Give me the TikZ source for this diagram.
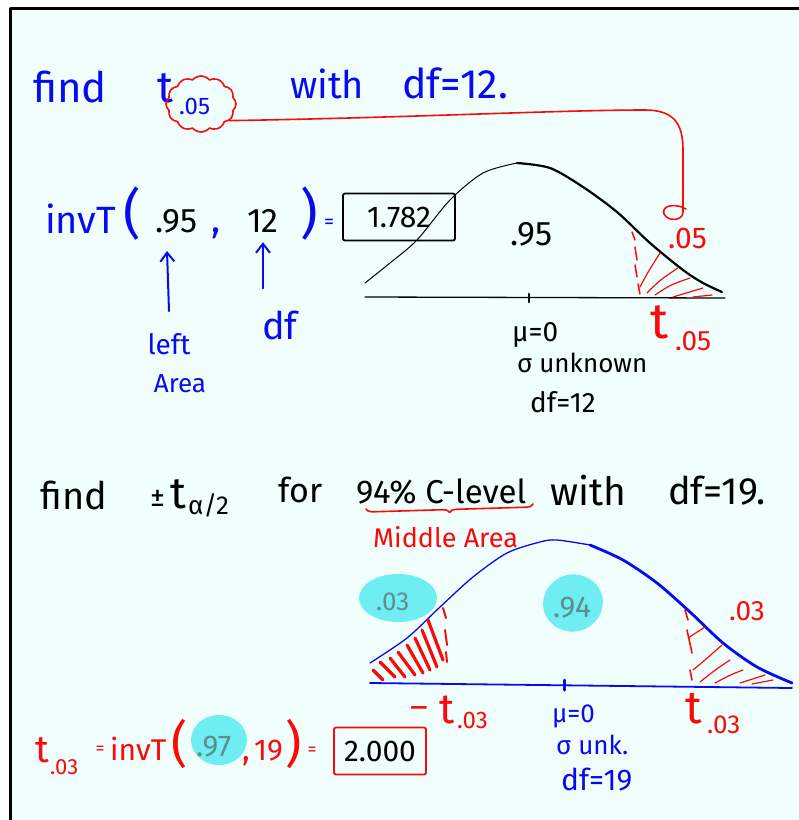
\documentclass[tikz,border=0pt]{standalone}
\usepackage{fontspec}
\setmainfont{Fira Sans}
\usetikzlibrary{shapes.symbols,shapes.geometric,arrows.meta,decorations.pathreplacing,calc}
\definecolor{bg}{RGB}{240,255,252}
\definecolor{pblue}{RGB}{10,10,240}
\definecolor{pred}{RGB}{250,10,10}
\definecolor{hl}{RGB}{110,238,242}
\definecolor{gtx}{RGB}{95,140,140}
\newcommand{\fsz}[1]{\fontsize{#1}{#1}\selectfont}
\begin{document}
\begin{tikzpicture}[x=1pt,y=-1pt,line cap=round,line join=round,
  txt/.style={inner sep=0pt,anchor=base west},
  tb/.style={txt,text=pblue,font=\fsz{#1}},
  tk/.style={txt,text=black,font=\fsz{#1}},
  tr/.style={txt,text=pred,font=\fsz{#1}},
  tg/.style={txt,text=gtx,font=\fsz{#1}},
  cb/.style={inner sep=0pt,anchor=center,text=pblue,font=\fsz{#1}},
  cr/.style={inner sep=0pt,anchor=center,text=pred,font=\fsz{#1}},
  barr/.style={pblue,line width=2pt,-{Straight Barb[length=9pt,width=14pt,line width=2pt]}},
  redpen/.style={pred,line width=1.6pt},
  hatch/.style={pred,line width=1.2pt},
  thatch/.style={pred,line width=3.2pt},
  blob/.style={fill=hl,draw=none,ellipse},
  ansbox/.style={inner sep=0pt,minimum width=#1,minimum height=47pt,line width=1.8pt,rounded corners=2pt,font=\fsz{30},text=black}]
\useasboundingbox (0,0) rectangle (799,820);
\fill[white] (0,0) rectangle (799,820);
\fill[bg] (10,8) rectangle (799,820);
\draw[line width=3pt,line cap=butt] (10,820) -- (10,8) -- (799,8);

% ---------- part 1 ----------
\node[tb=42] (find1) at (33,102) {find};
\node[tb=44] (t1) at (157,102) {t};
\node[tb=24] (sub1) at (179,114) {.05};
\node[cloud,draw=pred,line width=1.6pt,cloud puffs=12,cloud puff arc=100,aspect=1.25,minimum width=70pt,minimum height=56pt,inner sep=0pt] (cl) at (201,104) {};
\node[tb=38] (with1) at (290,98) {with};
\node[tb=41] (df1) at (402,98) {df=12.};
\coordinate (hook) at (683,212);
\draw[redpen] (cl.-30) .. controls (400,118) and (560,110) .. (645,110)
  .. controls (675,110) and (683,125) .. (683,150) -- (hook)
  .. controls (683,221) and (668,222) .. (664,214) .. controls (661,205) and (676,203) .. (686,209);

\node[tb=38] (invt) at (45,233) {invT};
\node[cb=54] (lp1) at (132,214) {(};
\node[tk=34] (n95) at (155,232) {.95};
\node[tb=38] (cm1) at (211,232) {,};
\node[tk=34] (n12) at (247,232) {12};
\node[cb=54] (rp1) at (309,214) {)};
\node[cb=20] (eq1) at (329,224) {=};
\node[draw=black,ansbox=112pt] (box1) at (399,217) {1.782};

\node[inner sep=0pt,text=pblue,font=\fsz{28}] (left) at (169,344) {left};
\node[inner sep=0pt,text=pblue,font=\fsz{26}] (area) at (180,384) {Area};
\node[inner sep=0pt,text=pblue,font=\fsz{38}] (dflab) at (280,325) {df};
\draw[barr] ([yshift=22pt]left.north) -- ($(left.north |- n95.south)+(-2,18)$);
\draw[barr] ([yshift=22pt]dflab.north -| n12.south) -- ($(n12.south)+(0,10)$);

% black curve
\draw[line width=1pt] plot[smooth] coordinates {(365,283) (390,263) (417,240) (450,200) (483,173) (517,163)};
\draw[line width=2.2pt] plot[smooth] coordinates {(517,163) (550,168) (583,187) (617,212) (650,243) (683,270) (703,283) (722,292)};
\draw[line width=1.3pt] (365,297) -- (725,298);
\coordinate (mu1) at (529,297);
\draw[line width=2.8pt] ($(mu1)+(0,-3)$) -- ($(mu1)+(0,5)$);
% right tail hatch
\draw[hatch,line width=1.5pt] (632,232) -- (635,240) (635,247) -- (637,260) (635,265) -- (637,277) (638,284) -- (640,294);
\draw[hatch] (640,287) .. controls (648,272) .. (660,253);
\draw[hatch] (647,293) .. controls (660,280) .. (678,268);
\draw[hatch] (655,295) .. controls (670,285) .. (690,278);
\draw[hatch] (673,297) .. controls (688,292) .. (703,288);
\draw[hatch] (693,297) -- (712,295);

\node[tk=34] (c95) at (510,245) {.95};
\node[tr=30] (r05) at (668,248) {.05};
\node[tr=50] (tt1) at (650,338) {t};
\node[tr=28] (tsub1) at (675,350) {.05};
\node[tk=28] (mu1l) at (512,341) {μ=0};
\node[tk=26] (sig1) at (517,372) {σ unknown};
\node[tk=28] (df1b) at (530,412) {df=12};

% ---------- part 2 ----------
\node[tk=38] (find2) at (40,509) {find};
\node[tk=30] (pm) at (150,506) {±};
\node[tk=44] (t2) at (170,508) {t};
\node[tk=26] (a2) at (188,514) {α/2};
\node[tk=34] (for2) at (278,502) {for};
\node[tk=33] (cl2) at (356,503) {94\% C-level};
\node[tk=39] (with2) at (550,505) {with};
\node[tk=38] (df2) at (668,504) {df=19.};
\draw[redpen,decorate,decoration={brace,mirror,amplitude=6pt}] (366,509) -- (533,504);
\node[tr=27] (mid) at (373,547) {Middle Area};

% blobs
\node[blob,minimum width=78pt,minimum height=48pt] (bl1) at (398,598) {};
\node[blob,minimum width=60pt,minimum height=57pt,rotate=15] (bl2) at (573,603) {};
\node[blob,minimum width=56pt,minimum height=50pt] (bl3) at (219,740) {};

% blue curve
\draw[pblue,line width=1.3pt] plot[smooth] coordinates {(370,663) (407,638) (440,607) (473,577) (507,553) (540,542) (557,540) (590,545)};
\draw[pblue,line width=2.8pt] plot[smooth] coordinates {(590,545) (623,560) (657,583) (690,612) (723,643) (757,667) (792,683)};
\draw[pblue,line width=1.8pt] (370,683) -- (792,688);
\coordinate (mu2) at (564,685);
\draw[pblue,line width=3pt] ($(mu2)+(0,-5)$) -- ($(mu2)+(0,5)$);

% left tail hatch (thick)
\draw[thatch] (373,670) -- (383,680) (380,662) -- (395,677) (390,658) -- (405,677) (398,652) -- (415,675)
  (407,645) -- (423,673) (415,638) -- (430,670) (422,630) -- (437,667) (428,620) -- (443,660);
\draw[pred,line width=2pt] (443,608) -- (446,618) (445,630) -- (447,645) (446,652) -- (447,662);
% right tail hatch
\draw[pred,line width=1.6pt] (685,610) -- (688,620) (687,630) -- (692,653) (690,670) -- (692,680);
\draw[hatch] (688,638) -- (705,627);
\draw[hatch] (693,670) .. controls (705,660) .. (722,645);
\draw[hatch] (700,682) .. controls (715,670) .. (730,660);
\draw[hatch] (715,683) .. controls (730,675) .. (743,670);
\draw[hatch] (740,683) -- (765,675);
\draw[hatch] (752,684) -- (773,680);

\node[tg=26] (g03) at (376,610) {.03};
\node[tg=30] (g94) at (553,617) {.94};
\node[tr=28] (r03) at (729,620) {.03};

\node[tr=34] (mdash) at (410,718) {–};
\node[tr=42] (mt) at (439,723) {t};
\node[tr=24] (mtsub) at (457,728) {.03};
\node[tb=26] (mu2l) at (552,722) {μ=0};
\node[tr=46] (tt2) at (685,723) {t};
\node[tr=26] (tsub2) at (707,733) {.03};
\node[tb=26] (sig2) at (556,754) {σ unk.};
\node[tb=30] (df2b) at (561,790) {df=19};

% formula
\node[tr=38] (tf) at (35,762) {t};
\node[tr=22] (tfs) at (50,774) {.03};
\node[cr=18] (eqa) at (100,750) {=};
\node[tr=30] (inv2) at (110,760) {invT};
\node[cr=50] (lp2) at (180,744) {(};
\node[tg=30] (g97) at (196,756) {.97};
\node[tr=32] (cm2) at (242,760) {,};
\node[tr=30] (n19) at (254,760) {19};
\node[cr=50] (rp2) at (294,744) {)};
\node[cr=18] (eqb) at (312,751) {=};
\node[draw=pred,ansbox=92pt] (box2) at (380,751) {2.000};
\end{tikzpicture}
\end{document}
